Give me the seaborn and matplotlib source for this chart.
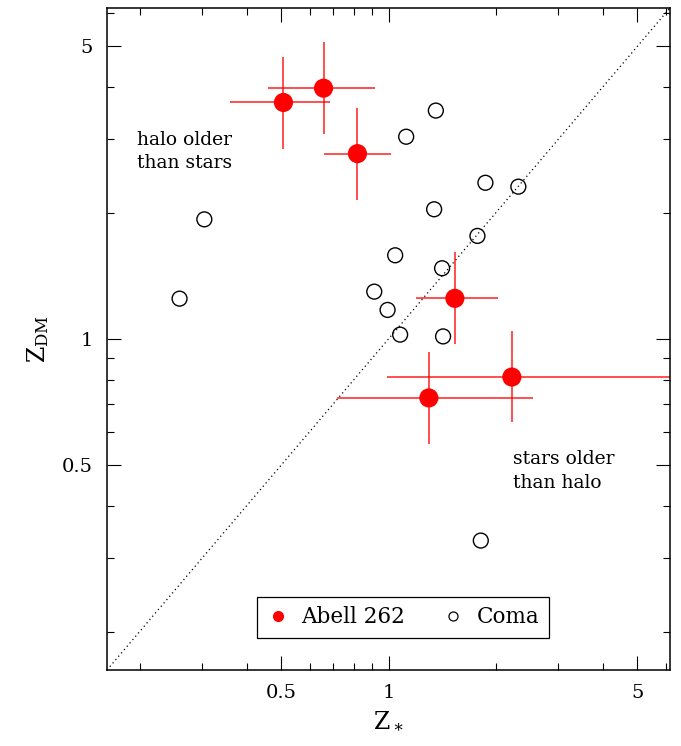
import numpy as np
import pandas as pd
import seaborn as sns
import matplotlib
matplotlib.use("Agg")
import matplotlib.pyplot as plt
from matplotlib.lines import Line2D
from matplotlib.ticker import LogLocator, FixedLocator, FixedFormatter, NullFormatter

# Abell 262: concentrations with lower / upper bounds
abell_zstar = [0.507, 0.657, 0.818, 1.536, 2.22, 1.298]
abell_zstar_lo = [0.360, 0.459, 0.660, 1.198, 0.99, 0.719]
abell_zstar_hi = [0.686, 0.916, 1.019, 2.03, 7.0, 2.55]
abell_zdm = [3.67, 3.97, 2.77, 1.25, 0.811, 0.723]
abell_zdm_lo = [2.84, 3.08, 2.15, 0.973, 0.632, 0.561]
abell_zdm_hi = [4.72, 5.11, 3.56, 1.61, 1.045, 0.933]

# Coma
coma_zstar = [0.304, 0.259, 1.358, 1.121, 1.871, 2.315, 1.343, 1.777,
              1.044, 1.414, 0.912, 0.994, 1.078, 1.423, 1.816]
coma_zdm = [1.93, 1.248, 3.51, 3.04, 2.36, 2.31, 2.04, 1.762,
            1.584, 1.475, 1.297, 1.173, 1.024, 1.014, 0.330]

axis_limits = [0.162, 6.17]
major_ticks = [0.5, 1, 5]
major_labels = ["0.5", "1", "5"]

sns.set_theme(style="ticks")
plt.rcParams["font.family"] = ["DejaVu Serif"]
plt.rcParams["mathtext.fontset"] = "dejavuserif"
plt.rcParams["text.color"] = "black"
plt.rcParams["axes.labelcolor"] = "black"

fig = plt.figure(figsize=(6.81, 7.46), dpi=100)
ax = fig.add_axes([0.1571, 0.1019, 0.8267, 0.8874])

abell = pd.DataFrame({"zstar": abell_zstar, "zdm": abell_zdm})
coma = pd.DataFrame({"zstar": coma_zstar, "zdm": coma_zdm})

# one-to-one line
ax.plot(axis_limits, axis_limits, color="black", lw=0.9,
        linestyle=(0, (1, 2.5)), zorder=1)

xerr = [np.array(abell_zstar) - np.array(abell_zstar_lo),
        np.array(abell_zstar_hi) - np.array(abell_zstar)]
yerr = [np.array(abell_zdm) - np.array(abell_zdm_lo),
        np.array(abell_zdm_hi) - np.array(abell_zdm)]
ax.errorbar(abell_zstar, abell_zdm, xerr=xerr, yerr=yerr, fmt="none",
            ecolor="red", elinewidth=1.3, alpha=0.75, capsize=0, zorder=2)

sns.scatterplot(data=coma, x="zstar", y="zdm", ax=ax, marker="o", s=115,
                facecolor="none", edgecolor="black", linewidth=1.0,
                legend=False, zorder=3)
sns.scatterplot(data=abell, x="zstar", y="zdm", ax=ax, marker="o", s=190,
                color="red", edgecolor="none", legend=False, zorder=4)

ax.set_xscale("log")
ax.set_yscale("log")
ax.set_xlim(axis_limits)
ax.set_ylim(axis_limits)

for axis in (ax.xaxis, ax.yaxis):
    axis.set_major_locator(FixedLocator(major_ticks))
    axis.set_major_formatter(FixedFormatter(major_labels))
    axis.set_minor_locator(LogLocator(base=10, subs=np.arange(2, 10)))
    axis.set_minor_formatter(NullFormatter())

ax.tick_params(which="both", direction="in", top=True, right=True,
               color="black", width=0.8, labelsize=14, labelcolor="black")
ax.tick_params(which="major", length=10, pad=10)
ax.tick_params(which="minor", length=5)
for sp in ax.spines.values():
    sp.set_visible(True)
    sp.set_color("black")
    sp.set_linewidth(1.1)

ax.set_xlabel(r"$\mathrm{Z}_\ast$", fontsize=17, labelpad=6)
ax.set_ylabel(r"$\mathrm{Z}_{\mathrm{DM}}$", fontsize=17, labelpad=8)

ax.text(0.0533, 0.814, "halo older\nthan stars", transform=ax.transAxes,
        fontsize=13.5, va="top", ha="left", linespacing=1.38)
ax.text(0.7206, 0.332, "stars older\nthan halo", transform=ax.transAxes,
        fontsize=13.5, va="top", ha="left", linespacing=1.38)

handles = [
    Line2D([], [], linestyle="none", marker="o", markersize=7,
           markerfacecolor="red", markeredgecolor="red", label="Abell 262"),
    Line2D([], [], linestyle="none", marker="o", markersize=6.5,
           markerfacecolor="none", markeredgecolor="black",
           markeredgewidth=0.9, label="Coma"),
]
leg = ax.legend(handles=handles, loc="center", bbox_to_anchor=(0.526, 0.0793),
                ncol=2, fontsize=15.5, frameon=True, fancybox=False,
                framealpha=1, edgecolor="black", handlelength=1.0,
                handletextpad=0.6, columnspacing=1.7, borderpad=0.45,
                borderaxespad=0)
leg.get_frame().set_linewidth(0.9)

fig.savefig("out.png", dpi=100)
